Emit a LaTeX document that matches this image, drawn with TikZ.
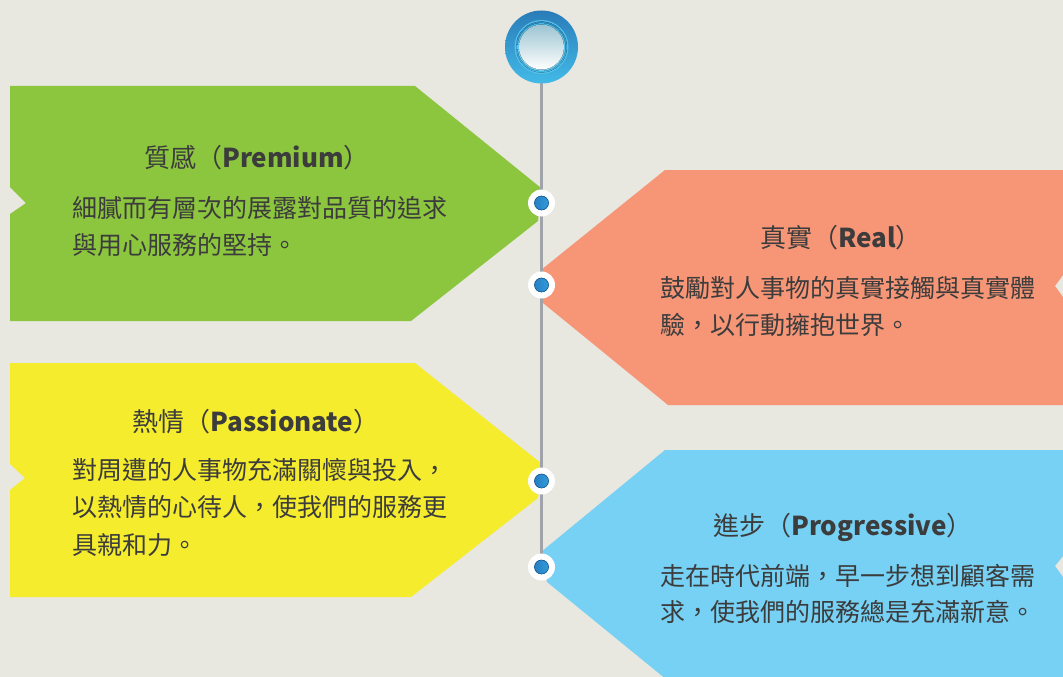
\documentclass[tikz,border=0pt]{standalone}
\usepackage{fontspec}
\setmainfont{Noto Sans CJK TC}
\definecolor{bgc}{HTML}{E8E7E0}
\definecolor{greenc}{HTML}{8CC63E}
\definecolor{orangec}{HTML}{F79677}
\definecolor{yellowc}{HTML}{F4EC2D}
\definecolor{bluec}{HTML}{76D1F4}
\definecolor{txtc}{HTML}{3C3C3C}
\definecolor{linec}{HTML}{A1A3AA}
\definecolor{dotblue}{HTML}{1F74BA}
\definecolor{dotblue2}{HTML}{3AA6E2}
\definecolor{ringdark}{HTML}{2A7CB8}
\definecolor{ringlight}{HTML}{42BAE8}
\definecolor{ringgray}{HTML}{C8C9CE}
\pgfdeclareradialshading{dotshade}{\pgfpoint{6bp}{0bp}}{color(0bp)=(white); color(30bp)=(white); color(50bp)=(ringgray)}
\tikzset{
  title/.style={font=\fontsize{26}{30}\selectfont, text=txtc, inner sep=0pt},
  body/.style={font=\fontsize{25}{30}\selectfont, text=txtc, inner sep=0pt, anchor=west},
  vline/.style={draw=linec, line width=3pt},
  dotnode/.style={circle, minimum size=27pt, inner sep=0pt, shading=dotshade,
    path picture={\fill[left color=dotblue, right color=dotblue2, draw=dotblue!80!black, line width=0.6pt] (path picture bounding box.center) circle (7pt);}},
  topnode/.style={circle, minimum size=73pt, inner sep=0pt, top color=ringdark, bottom color=ringlight,
    path picture={
      \fill[ringlight!90!white] (path picture bounding box.center) circle (27pt);
      \fill[top color=ringdark!80!ringlight, bottom color=ringlight] (path picture bounding box.center) circle (25.5pt);
      \fill[top color=ringlight, bottom color=ringlight!70!white] (path picture bounding box.center) circle (24pt);
      \fill[top color={rgb,255:red,156;green,196;blue,210}, bottom color=white] (path picture bounding box.center) circle (22.5pt);}},
}
\begin{document}
\begin{tikzpicture}[x=1pt,y=-1pt]
\useasboundingbox (0,0) rectangle (1063,677);
\fill[bgc] (0,0) rectangle (1063,677);
% shapes
\fill[greenc] (10,86) -- (415,86) -- (541,188) -- (538,221) -- (411,321) -- (10,321) -- (10,214) -- (26,203) -- (10,187) -- cycle;
\fill[orangec] (1063,170) -- (665,170) -- (541,270) -- (543,303) -- (668,405) -- (1063,405) -- (1063,297) -- (1055,286) -- (1063,275) -- cycle;
\fill[yellowc] (10,363) -- (415,363) -- (542,464) -- (538,498) -- (411,597) -- (10,597) -- (10,490) -- (25,478) -- (10,464) -- cycle;
\fill[bluec] (1063,450) -- (665,450) -- (541,552) -- (547,582) -- (672,684) -- (1063,684) -- (1063,577) -- (1055,566) -- (1063,556) -- cycle;
% nodes
\coordinate (topc) at (541.5,47);
\coordinate (c4) at (541.5,567);
\draw[vline] (topc) -- (c4);
\node[topnode] (top) at (topc) {};
\node[dotnode] (d1) at (541.5,203) {};
\node[dotnode] (d2) at (541.5,285) {};
\node[dotnode] (d3) at (541.5,481) {};
\node[dotnode] (d4) at (c4) {};
% texts
\node[title] (t1) at (257,158) {質感（\textbf{Premium}）};
\node[body] (b1a) at (72,208) {細膩而有層次的展露對品質的追求};
\node[body] (b1b) at (72,245) {與用心服務的堅持。};
\node[title] (t2) at (841,238) {真實（\textbf{Real}）};
\node[body] (b2a) at (660,288) {鼓勵對人事物的真實接觸與真實體};
\node[body] (b2b) at (660,325) {驗，以行動擁抱世界。};
\node[title] (t3) at (256,422) {熱情（\textbf{Passionate}）};
\node[body] (b3a) at (72,470) {對周遭的人事物充滿關懷與投入，};
\node[body] (b3b) at (72,507) {以熱情的心待人，使我們的服務更};
\node[body] (b3c) at (72,545) {具親和力。};
\node[title] (t4) at (843,527) {進步（\textbf{Progressive}）};
\node[body] (b4a) at (660,576) {走在時代前端，早一步想到顧客需};
\node[body] (b4b) at (660,612) {求，使我們的服務總是充滿新意。};
\end{tikzpicture}
\end{document}
